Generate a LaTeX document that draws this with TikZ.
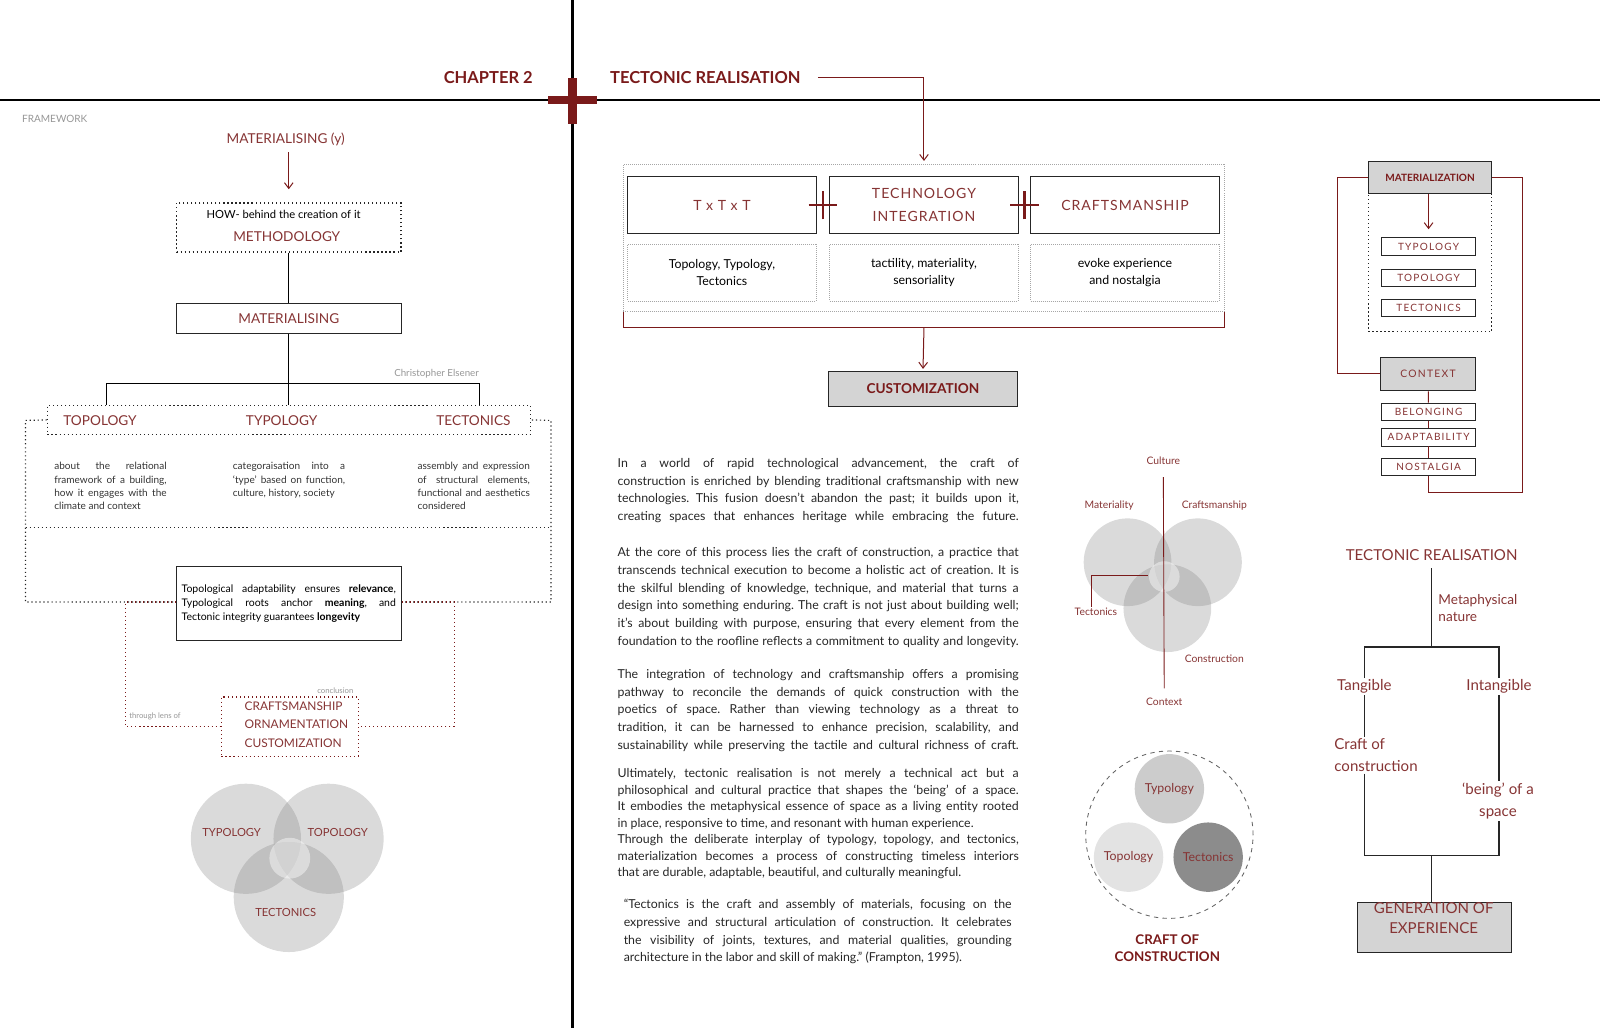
\documentclass[tikz,border=0pt]{standalone}
\usepackage{fontspec}
\setmainfont{Lato}
\newfontfamily\spaced[LetterSpace=12]{Lato}
\newfontfamily\wide[LetterSpace=7]{Lato}
\usepackage{xcolor}
\definecolor{tec-red}{RGB}{122,26,26}
\definecolor{tec-txt}{RGB}{134,52,52}
\definecolor{tec-gray}{RGB}{150,150,150}
\usetikzlibrary{positioning, calc, fit, arrows.meta}
\newcommand{\pxu}{0.025cm}
\newcommand{\fsz}[2]{\fontsize{#1}{#2}\selectfont}

\tikzset{
    sz/.style n args={2}{minimum width=#1*\pxu, minimum height=#2*\pxu, inner sep=0pt},
    lbl/.style={text=tec-txt, inner sep=1pt},
    note/.style={text=tec-gray, inner sep=1pt},
    solidbox/.style={draw=black!85, line width=0.7pt},
    dotbox/.style={draw=black!85, dotted, line width=0.8pt},
    greydot/.style={draw=black!35, densely dotted, line width=0.4pt},
    greybox/.style={draw=black!85, fill=black!17, line width=0.7pt},
    redline/.style={draw=tec-red, line width=0.7pt},
    reddot/.style={draw=tec-red, dotted, line width=0.8pt},
    treeline/.style={draw=black!85, line width=0.8pt},
    arr/.style={-{Straight Barb[length=4pt, width=6pt]}},
    venn/.style={circle, fill=black!50, fill opacity=0.29, inner sep=0pt},
    descr/.style={anchor=north west, align=justify, inner sep=0pt, font=\frenchspacing\fsz{7}{9.2}, text=black!80},
    essaytxt/.style={anchor=north west, inner sep=0pt, align=justify, font=\frenchspacing\fsz{8.6}{12.3}, text=black!85},
}

\begin{document}
\begin{tikzpicture}[x=0.025cm, y=-0.025cm]
    \useasboundingbox (0,0) rectangle (1568,1007);

    % Header
    \draw[line width=1.5pt] (0,98) -- (1568,98);
    \draw[line width=1.5pt] (561,0) -- (561,1007);
    \fill[tec-red] (537,94) rectangle (585,102);
    \fill[tec-red] (557,76) rectangle (565,122);
    \node[anchor=east, text=tec-red, font=\fsz{11.5}{13}\bfseries] (chap) at (527,76) {CHAPTER 2};
    \node[anchor=west, text=tec-red, font=\fsz{11.5}{13}\bfseries] (tecreal) at (593,76) {TECTONIC REALISATION};

    % Framework tree
    \node[note, anchor=west, font=\fsz{7}{8}] (fw) at (20,117) {FRAMEWORK};
    \node[lbl, font=\fsz{9.5}{11}] (maty) at (280,137) {MATERIALISING (y)};
    \node[dotbox, sz={220}{48}] (method) at (283,223) {};
    \node[font=\fsz{7.8}{9}, inner sep=0pt] (how) at (278,210) {HOW- behind the creation of it};
    \node[lbl, font=\fsz{9.5}{11}] (methtxt) at (281,232) {METHODOLOGY};
    \draw[redline, arr, shorten <=4*\pxu, shorten >=13*\pxu] (maty.south -| method.north) -- (method.north);
    \node[solidbox, sz={220}{30}, text=tec-txt, font=\fsz{9.5}{11}] (matbox) at (283,312) {MATERIALISING};
    \draw (method) -- (matbox);

    \node[dotbox, sz={473}{29}] (tribox) at (283,411.5) {};
    \coordinate (fork) at (283,376);
    \draw (matbox) -- (tribox);
    \draw ([xshift=-179*\pxu]tribox.north) |- (fork) -| ([xshift=187*\pxu]tribox.north);
    \node[note, anchor=east, font=\fsz{6.8}{8}] (elsener) at (471,366) {Christopher Elsener};
    \foreach \nm/\x/\txt in {topo/98/TOPOLOGY, typo/276/TYPOLOGY, tect/464/TECTONICS}
        \node[lbl, font=\fsz{9.5}{11}] (\nm) at (\x,412) {\txt};

    % Outer frame
    \draw[dotbox] (tribox.west) -- (25,412) -- (25,590) -- (540,590) -- (540,412) -- (tribox.east);
    \draw[dotbox] (25,517) -- (540,517);

    \node[descr, text width=2.75cm] (dtopo) at (53,453) {about the relational\linebreak framework of a building,\linebreak how it engages with the\linebreak climate and context};
    \node[descr, text width=2.75cm] (dtypo) at (228,453) {categoraisation into a\linebreak ‘type’ based on function,\linebreak culture, history, society};
    \node[descr, text width=2.75cm] (dtect) at (409,453) {assembly and expression\linebreak of structural elements,\linebreak functional and aesthetics\linebreak considered};

    \node[solidbox, fill=white, minimum width=220*\pxu, minimum height=73*\pxu, text width=5.25cm, inner xsep=5*\pxu, align=justify, font=\frenchspacing\fsz{7.3}{9.8}] (concl) at (283,591.5) {Topological adaptability ensures \textbf{relevance},\linebreak Typological roots anchor \textbf{meaning}, and\linebreak Tectonic integrity guarantees \textbf{longevity}};

    % Lens
    \coordinate (lensL) at (123,590);
    \coordinate (lensR) at (445,590);
    \node[reddot, sz={134}{58}] (lens) at (284,712) {};
    \node[lbl, anchor=west, align=left, font=\fsz{8.3}{12.8}] (lenstxt) at (238,710) {CRAFTSMANSHIP\\ORNAMENTATION\\CUSTOMIZATION};
    \draw[reddot] (concl.west |- lensL) -- (lensL) |- (lens.west);
    \draw[reddot] (concl.east |- lensR) -- (lensR) |- (lens.east);
    \node[note, anchor=west, font=\fsz{5.4}{6}] (thru) at (125,702) {through lens of};
    \node[note, anchor=east, font=\fsz{5.4}{6}] (conc) at (348,677) {conclusion};

    % Venn left
    \foreach \nm/\x/\y in {vA/241/822, vB/322/822, vC/283/879}
        \node[venn, minimum size=108*\pxu] (\nm) at (\x,\y) {};
    \node[circle, fill=white, fill opacity=0.45, minimum size=40*\pxu, inner sep=0pt] (vmid) at (284,841) {};
    \node[lbl, font=\fsz{7.8}{9}] (vtypo) at (227,816) {TYPOLOGY};
    \node[lbl, font=\fsz{7.8}{9}] (vtopo) at (331,816) {TOPOLOGY};
    \node[lbl, font=\fsz{7.8}{9}] (vtect) at (280,894) {TECTONICS};

    % TxTxT frame
    \node[greydot, sz={589}{144}] (techframe) at (905.5,233) {};
    \draw[redline, arr, shorten <=12*\pxu, shorten >=3*\pxu] (tecreal.east) -| (techframe.north);
    \node[solidbox, sz={185}{56}, text=tec-txt, font=\wide\fsz{9.8}{15.6}, align=center] (txt) at (707.5,201) {T x T x T};
    \node[solidbox, sz={185}{56}, text=tec-txt, font=\wide\fsz{9.8}{15.6}, align=center] (techint) at (905.5,201) {TECHNOLOGY\\INTEGRATION};
    \node[solidbox, sz={185}{56}, text=tec-txt, font=\wide\fsz{9.8}{15.6}, align=center] (craftsm) at (1102.5,201) {CRAFTSMANSHIP};
    \foreach \a/\b in {txt/techint, techint/craftsm} {
        \coordinate (cx) at ($(\a.east)!0.5!(\b.west)$);
        \draw[tec-red, line width=1.8pt] ([xshift=-14*\pxu]cx) -- ([xshift=14*\pxu]cx);
        \draw[tec-red, line width=1.8pt] ([yshift=-14*\pxu]cx) -- ([yshift=14*\pxu]cx);
    }
    \node[greydot, sz={185}{56}, align=center, font=\fsz{8.6}{12.2}] (dtxt) at (707.5,267) {Topology, Typology,\\Tectonics};
    \node[greydot, sz={185}{56}, align=center, font=\fsz{8.6}{12.2}] (dtech) at (905.5,267) {tactility, materiality,\\sensoriality};
    \node[greydot, sz={185}{56}, align=center, font=\fsz{8.6}{12.2}] (dcraft) at (1102.5,267) {evoke experience\\and nostalgia};

    \draw[redline] (techframe.south west) -- ++(0,16) -| (techframe.south east);
    \node[greybox, sz={185}{34}, text=tec-red, font=\fsz{9.5}{11}\bfseries] (custom) at (904.5,381) {CUSTOMIZATION};
    \draw[redline, arr, shorten >=2*\pxu] ([yshift=-16*\pxu]techframe.south) -- (custom.north);

    % Essay
    \node[essaytxt, text width=9.825cm] (essay) at (605,449) {\parindent=0pt\parfillskip=0pt
        In a world of rapid technological advancement, the craft of\linebreak
        construction is enriched by blending traditional craftsmanship with new\linebreak
        technologies. This fusion doesn’t abandon the past; it builds upon it,\linebreak
        creating spaces that enhances heritage while embracing the future.\par\vspace{13pt}
        At the core of this process lies the craft of construction, a practice that\linebreak
        transcends technical execution to become a holistic act of creation. It is\linebreak
        the skilful blending of knowledge, technique, and material that turns a\linebreak
        design into something enduring. The craft is not just about building well;\linebreak
        it’s about building with purpose, ensuring that every element from the\linebreak
        foundation to the roofline reflects a commitment to quality and longevity.\par\vspace{11pt}
        The integration of technology and craftsmanship offers a promising\linebreak
        pathway to reconcile the demands of quick construction with the\linebreak
        poetics of space. Rather than viewing technology as a threat to\linebreak
        tradition, it can be harnessed to enhance precision, scalability, and\linebreak
        sustainability while preserving the tactile and cultural richness of craft.\par\vspace{8.5pt}
        \parfillskip=0pt plus 1fil\fsz{8.6}{11.5}
        Ultimately, tectonic realisation is not merely a technical act but a\linebreak
        philosophical and cultural practice that shapes the ‘being’ of a space.\linebreak
        It embodies the metaphysical essence of space as a living entity rooted\linebreak
        in place, responsive to time, and resonant with human experience.\par
        Through the deliberate interplay of typology, topology, and tectonics,\linebreak
        materialization becomes a process of constructing timeless interiors\linebreak
        that are durable, adaptable, beautiful, and culturally meaningful.\par};
    \node[essaytxt, text width=9.5cm] (quote) at (611,881) {\parindent=0pt
        “Tectonics is the craft and assembly of materials, focusing on the\linebreak
        expressive and structural articulation of construction. It celebrates\linebreak
        the visibility of joints, textures, and material qualities, grounding\linebreak
        architecture in the labor and skill of making.” (Frampton, 1995).};

    % Venn centre
    \foreach \nm/\x/\y in {cA/1105/551, cB/1174/551, cC/1144/596}
        \node[venn, minimum size=86*\pxu] (\nm) at (\x,\y) {};
    \node[circle, fill=white, fill opacity=0.45, minimum size=30*\pxu, inner sep=0pt] (cmid) at (1141,565) {};
    \node[lbl, font=\fsz{7.2}{8}] (cult) at (1140,452) {Culture};
    \node[lbl, font=\fsz{7.2}{8}] (ctxt) at (1141,688) {Context};
    \node[lbl, font=\fsz{7.2}{8}] (cmat) at (1087,495) {Materiality};
    \node[lbl, font=\fsz{7.2}{8}] (ccraft) at (1190,495) {Craftsmanship};
    \node[lbl, font=\fsz{7.2}{8}] (ctec) at (1074,600) {Tectonics};
    \node[lbl, font=\fsz{7.2}{8}] (ccons) at (1190,646) {Construction};
    \draw[tec-red, line width=0.6pt, shorten <=10*\pxu, shorten >=8*\pxu] (cult) -- (ctxt);
    \coordinate (tecpt) at (1125,564);
    \draw[tec-red, line width=0.6pt] (tecpt) -| ([xshift=-4*\pxu]ctec.north);

    % Craft of construction
    \node[circle, draw=black!60, dashed, line width=0.6pt, minimum size=164*\pxu, inner sep=0pt] (ring) at (1146,818) {};
    \node[circle, fill=black!20, minimum size=68*\pxu, inner sep=0pt, text=tec-txt, font=\fsz{8.6}{10}] (ringTypo) at (1146,773) {Typology};
    \node[circle, fill=black!11, minimum size=68*\pxu, inner sep=0pt, text=tec-txt, font=\fsz{8.6}{10}] (ringTopo) at (1106,840) {Topology};
    \node[circle, fill=black!45, minimum size=68*\pxu, inner sep=0pt, text=tec-txt, font=\fsz{8.6}{10}] (ringTect) at (1184,840) {Tectonics};
    \node[text=tec-red, align=center, font=\fsz{9.3}{12.2}\bfseries] (craftcap) at (1144,929) {CRAFT OF\\CONSTRUCTION};

    % Materialization column
    \node[greybox, sz={121}{32}, text=tec-red, font=\fsz{7}{8}\bfseries] (mat) at (1401.5,174) {MATERIALIZATION};
    \node[dotbox, sz={121}{135}] (matdots) at (1401.5,257.5) {};
    \foreach \nm/\y/\txt in {rtypo/241.5/TYPOLOGY, rtopo/272/TOPOLOGY, rtect/302/TECTONICS}
        \node[solidbox, line width=0.5pt, sz={92}{17}, text=tec-txt, font=\spaced\fsz{7}{8}] (\nm) at (1400,\y) {\txt};
    \draw[redline, arr, shorten >=8*\pxu] (mat.south -| rtypo.north) -- (rtypo.north);
    \node[greybox, sz={93}{33}, text=tec-txt, font=\spaced\fsz{7.2}{8}] (context) at (1399.5,366.5) {CONTEXT};
    \foreach \nm/\y/\txt in {belong/403.5/BELONGING, adapt/428.5/ADAPTABILITY, nostal/457.5/NOSTALGIA}
        \node[solidbox, line width=0.5pt, sz={92}{17}, text=tec-txt, font=\spaced\fsz{7}{8}] (\nm) at (1400,\y) {\txt};
    \draw[redline] (context) -- (belong);
    \draw[redline] (belong) -- (adapt);
    \draw[redline] (adapt) -- (nostal);
    \draw[redline] (mat.west) -- ++(-30,0) |- (context.west);
    \draw[redline] (mat.east) -| ++(30,309) -| (nostal.south);

    % Realisation tree
    \node[lbl, font=\fsz{10.5}{12}] (trtitle) at (1403,544) {TECTONIC REALISATION};
    \node[lbl, anchor=west, align=left, font=\fsz{9.5}{12}] (meta) at (1408,596) {Metaphysical\\nature};
    \coordinate (split) at (1403,634);
    \coordinate (join) at (1403,838);
    \node[lbl, font=\fsz{10.5}{12}] (tang) at (1337,673) {Tangible};
    \node[lbl, font=\fsz{10.5}{12}] (intang) at (1469,673) {Intangible};
    \node[lbl, anchor=west, align=left, font=\fsz{10.5}{15.6}] (craftc) at (1306,740) {Craft of\\construction};
    \node[lbl, align=center, font=\fsz{10.5}{15.6}] (being) at (1468,785) {‘being’ of a\\space};
    \draw[treeline, shorten <=6*\pxu] (trtitle.south) -- (split);
    \draw[treeline] (tang.north) |- (split) -| (intang.north);
    \draw[treeline] (tang.south) -- (tang.south |- craftc.north);
    \draw[treeline] (intang.south) -- (intang.south |- being.north);
    \draw[treeline] (craftc.south -| tang.south) |- (join) -| (being.south -| intang.south);
    \node[greybox, sz={151}{49}] (gen) at (1405.5,908.5) {};
    \node[lbl, align=center, font=\fsz{10.5}{14}] (gentxt) at (1405,900) {GENERATION OF\\EXPERIENCE};
    \draw[treeline] (join) -- (join |- gen.north);
\end{tikzpicture}
\end{document}
